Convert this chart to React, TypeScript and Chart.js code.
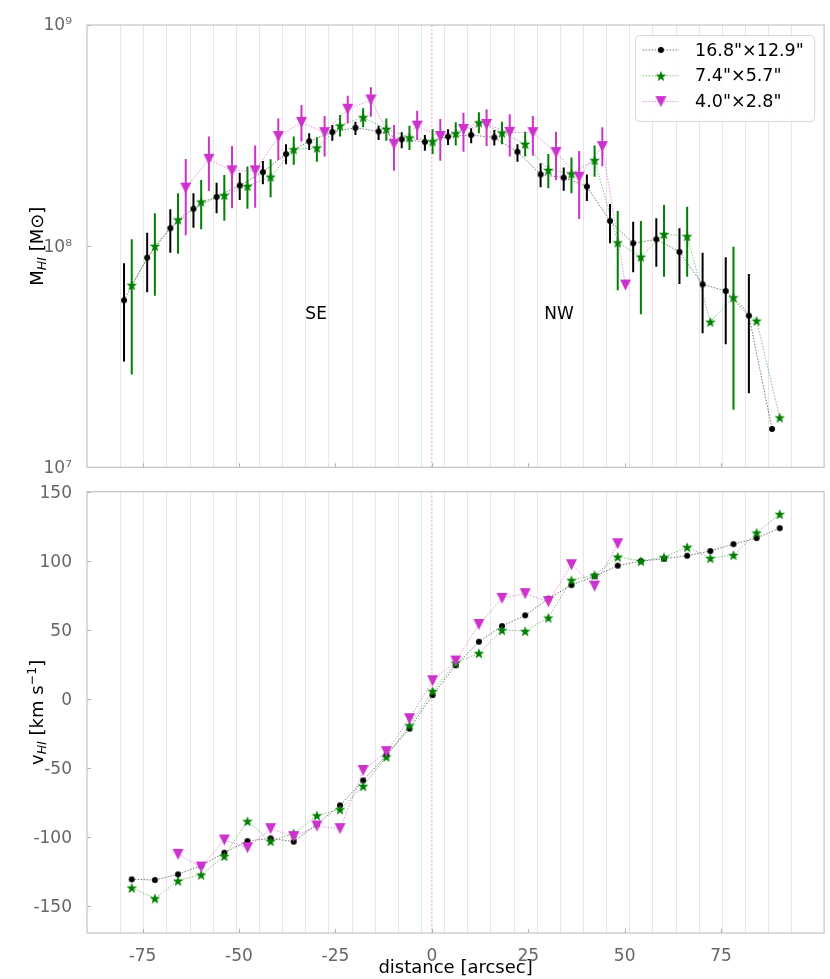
import React, { useEffect, useRef } from "react";
import { Chart, registerables } from "chart.js";

Chart.register(...registerables);

const FONT = "'DejaVu Sans', sans-serif";

// ---------------- data ----------------
const seriesLabels = ['16.8"×12.9"', '7.4"×5.7"', '4.0"×2.8"'];

// bin centres [arcsec]
const distance = [
  -77.8, -71.8, -65.8, -59.8, -53.8, -47.8, -41.8, -35.8, -29.8, -23.8, -17.8, -11.8, -5.8, 0.2,
  6.2, 12.2, 18.2, 24.2, 30.2, 36.2, 42.2, 48.2, 54.2, 60.2, 66.2, 72.2, 78.2, 84.2, 90.2,
];
const distanceFine = [
  -65.8, -59.8, -53.8, -47.8, -41.8, -35.8, -29.8, -23.8, -17.8, -11.8, -5.8, 0.2, 6.2, 12.2,
  18.2, 24.2, 30.2, 36.2, 42.2, 48.2,
];
// bin edges (vertical guide lines)
const binEdges = [
  -80.8, -74.8, -68.8, -62.8, -56.8, -50.8, -44.8, -38.8, -32.8, -26.8, -20.8, -14.8, -8.8, -2.8,
  3.2, 9.2, 15.2, 21.2, 27.2, 33.2, 39.2, 45.2, 51.2, 57.2, 63.2, 69.2, 75.2, 81.2, 87.2, 93.2,
];
const xTicks = [-75, -50, -25, 0, 25, 50, 75];
const massTicks = [1e7, 1e8, 1e9];
const massTickLabels = ["10⁷", "10⁸", "10⁹"];
const velTicks = [-150, -100, -50, 0, 50, 100, 150];

// HI mass [Msun], beam 16.8"x12.9"
const massA = [
  5.69e7, 8.87e7, 1.205e8, 1.475e8, 1.67e8, 1.88e8, 2.16e8, 2.61e8, 2.98e8, 3.28e8, 3.43e8, 3.3e8,
  3.04e8, 2.96e8, 3.13e8, 3.18e8, 3.1e8, 2.67e8, 2.11e8, 2.04e8, 1.86e8, 1.3e8, 1.03e8, 1.074e8,
  9.42e7, 6.72e7, 6.27e7, 4.85e7, 1.49e7,
];
const massAHi = [
  8.36e7, 1.151e8, 1.469e8, 1.734e8, 1.936e8, 2.148e8, 2.427e8, 2.89e8, 3.24e8, 3.53e8, 3.65e8,
  3.5e8, 3.27e8, 3.18e8, 3.38e8, 3.41e8, 3.35e8, 2.89e8, 2.37e8, 2.27e8, 2.11e8, 1.55e8, 1.29e8,
  1.336e8, 1.204e8, 9.34e7, 8.9e7, 7.48e7, null,
];
const massALo = [
  3.01e7, 6.18e7, 9.33e7, 1.211e8, 1.409e8, 1.618e8, 1.905e8, 2.345e8, 2.72e8, 3.0e8, 3.18e8,
  3.02e8, 2.77e8, 2.7e8, 2.87e8, 2.92e8, 2.85e8, 2.41e8, 1.845e8, 1.78e8, 1.6e8, 1.03e8, 7.62e7,
  8.07e7, 6.74e7, 4.04e7, 3.6e7, 2.16e7, null,
];

// HI mass, beam 7.4"x5.7"
const massB = [
  6.67e7, 1.002e8, 1.32e8, 1.59e8, 1.7e8, 1.87e8, 2.06e8, 2.74e8, 2.79e8, 3.51e8, 3.83e8, 3.39e8,
  3.1e8, 2.98e8, 3.24e8, 3.63e8, 3.26e8, 2.9e8, 2.21e8, 2.13e8, 2.45e8, 1.04e8, 8.96e7, 1.135e8,
  1.11e8, 4.55e7, 5.87e7, 4.6e7, 1.68e7,
];
const massBHi = [
  1.074e8, 1.409e8, 1.734e8, 1.991e8, 2.1e8, 2.29e8, 2.47e8, 3.13e8, 3.11e8, 3.92e8, 4.2e8,
  3.78e8, 3.5e8, 3.38e8, 3.63e8, 4.03e8, 3.65e8, 3.29e8, 2.61e8, 2.52e8, 2.85e8, 1.442e8, 1.3e8,
  1.535e8, 1.508e8, null, 9.94e7, null, null,
];
const massBLo = [
  2.63e7, 5.97e7, 9.24e7, 1.192e8, 1.304e8, 1.477e8, 1.663e8, 2.335e8, 2.41e8, 3.13e8, 3.45e8,
  3.0e8, 2.72e8, 2.61e8, 2.85e8, 3.24e8, 2.89e8, 2.54e8, 1.826e8, 1.734e8, 2.06e8, 6.32e7, 4.92e7,
  7.28e7, 7.28e7, null, 1.82e7, null, null,
];

// HI mass, beam 4.0"x2.8"
const massC = [
  1.83e8, 2.47e8, 2.19e8, 2.19e8, 3.13e8, 3.63e8, 3.26e8, 4.16e8, 4.58e8, 2.89e8, 3.49e8, 3.13e8,
  3.37e8, 3.55e8, 3.27e8, 3.26e8, 2.65e8, 2.05e8, 2.82e8, 6.67e7,
];
const massCHi = [
  2.48e8, 3.13e8, 2.84e8, 2.85e8, 3.78e8, 4.35e8, 3.88e8, 4.79e8, 5.23e8, 3.53e8, 4.1e8, 3.76e8,
  4.01e8, 4.16e8, 3.95e8, 3.88e8, 3.29e8, 2.69e8, 3.45e8, null,
];
const massCLo = [
  1.12e8, 1.776e8, 1.484e8, 1.493e8, 2.45e8, 2.97e8, 2.54e8, 3.59e8, 3.85e8, 2.19e8, 3.02e8,
  2.43e8, 2.67e8, 2.84e8, 2.54e8, 2.56e8, 1.991e8, 1.327e8, 2.3e8, null,
];

// HI velocity [km/s]
const velA = [
  -130.9, -131.4, -127.3, -121.0, -111.6, -103.2, -101.2, -103.6, -91.0, -77.3, -59.2, -41.0,
  -21.7, 2.6, 24.2, 41.3, 52.6, 60.4, 72.5, 82.3, 88.8, 96.4, 99.7, 101.4, 103.6, 107.0, 112.0,
  116.4, 123.6,
];
const velB = [
  -137.0, -144.7, -131.9, -127.5, -114.0, -88.7, -103.2, -97.6, -84.6, -80.2, -63.3, -42.0, -19.3,
  5.5, 26.0, 33.0, 49.7, 49.0, 58.7, 85.9, 89.6, 102.9, 99.7, 102.6, 109.9, 101.9, 104.1, 120.3,
  133.8,
];
const velC = [
  -112.8, -122.0, -102.4, -108.0, -94.2, -100.0, -92.3, -94.2, -52.0, -38.4, -14.5, 13.0, 27.3,
  53.8, 72.7, 76.1, 70.3, 97.1, 81.6, 112.3,
];

const regionLabels = ["SE", "NW"];
const regionX = [-30, 33];
const regionMass = 4.9e7;

// ---------------- style ----------------
const X_MIN = -89.4;
const X_MAX = 101.7;
const V_MIN = -169.8;
const V_MAX = 150;
const DODGE = 2; // horizontal offset of the series in the mass panel
const COLORS = ["#000000", "#008000", "#cc33cc"];
const LINE_COLORS = ["rgba(0,0,0,0.6)", "rgba(0,128,0,0.55)", "rgba(204,51,204,0.6)"];
const TICK_COLOR = "#666666";
const FRAME_COLOR = "#c4c4c4";

function makeStar(color: string, R: number, r: number) {
  const size = Math.ceil(R * 2) + 2;
  const c = document.createElement("canvas");
  c.width = size;
  c.height = size;
  const g = c.getContext("2d")!;
  g.fillStyle = color;
  g.beginPath();
  for (let i = 0; i < 10; i++) {
    const a = -Math.PI / 2 + (i * Math.PI) / 5;
    const rr = i % 2 === 0 ? R : r;
    const px = size / 2 + rr * Math.cos(a);
    const py = size / 2 + 0.6 + rr * Math.sin(a);
    if (i === 0) g.moveTo(px, py);
    else g.lineTo(px, py);
  }
  g.closePath();
  g.fill();
  return c;
}

function makeTriDown(color: string, w: number) {
  const size = Math.ceil(w) + 2;
  const c = document.createElement("canvas");
  c.width = size;
  c.height = size;
  const g = c.getContext("2d")!;
  g.fillStyle = color;
  g.beginPath();
  g.moveTo(1, 1);
  g.lineTo(size - 1, 1);
  g.lineTo(size / 2, size - 1);
  g.closePath();
  g.fill();
  return c;
}

function makeDot(color: string, r: number) {
  const size = Math.ceil(r * 2) + 2;
  const c = document.createElement("canvas");
  c.width = size;
  c.height = size;
  const g = c.getContext("2d")!;
  g.fillStyle = color;
  g.beginPath();
  g.arc(size / 2, size / 2, r, 0, Math.PI * 2);
  g.fill();
  return c;
}

type Part = { t: string; size: number; italic?: boolean; dy: number };

function drawVTitle(ctx: CanvasRenderingContext2D, parts: Part[], cx: number, cy: number) {
  ctx.save();
  ctx.translate(cx, cy);
  ctx.rotate(-Math.PI / 2);
  ctx.fillStyle = "#000";
  ctx.textBaseline = "alphabetic";
  ctx.textAlign = "left";
  const widths = parts.map((p) => {
    ctx.font = `${p.italic ? "italic " : ""}${p.size}px ${FONT}`;
    return ctx.measureText(p.t).width;
  });
  const total = widths.reduce((a, b) => a + b, 0);
  let x = -total / 2;
  parts.forEach((p, i) => {
    ctx.font = `${p.italic ? "italic " : ""}${p.size}px ${FONT}`;
    ctx.fillText(p.t, x, 6.5 + p.dy);
    x += widths[i];
  });
  ctx.restore();
}

function makeDecor(o: {
  yTitle: Part[];
  legend: boolean;
  yTicks: number[];
  markers: HTMLCanvasElement[];
  texts?: boolean;
}) {
  return {
    id: "decor",
    beforeDatasetsDraw(chart: any) {
      const { ctx, chartArea: a, scales } = chart;
      const xs = scales.x;
      ctx.save();
      ctx.strokeStyle = "#e6e6e6";
      ctx.lineWidth = 1;
      binEdges.forEach((e) => {
        const px = Math.round(xs.getPixelForValue(e)) + 0.5;
        ctx.beginPath();
        ctx.moveTo(px, a.top);
        ctx.lineTo(px, a.bottom);
        ctx.stroke();
      });
      const z = xs.getPixelForValue(0);
      ctx.strokeStyle = "rgba(255,80,80,0.45)";
      ctx.setLineDash([2, 2]);
      ctx.lineWidth = 1.2;
      ctx.beginPath();
      ctx.moveTo(z, a.top);
      ctx.lineTo(z, a.bottom);
      ctx.stroke();
      ctx.restore();
    },
    beforeDatasetDraw(chart: any, args: any) {
      const ds = chart.data.datasets[args.index];
      if (!ds.errHi) return;
      const { ctx, chartArea: a } = chart;
      const ys = chart.scales.y;
      const meta = chart.getDatasetMeta(args.index);
      ctx.save();
      ctx.beginPath();
      ctx.rect(a.left, a.top, a.right - a.left, a.bottom - a.top);
      ctx.clip();
      ctx.strokeStyle = ds.errColor;
      ctx.lineWidth = 2;
      meta.data.forEach((el: any, i: number) => {
        const hi = ds.errHi[i];
        const lo = ds.errLo[i];
        if (hi == null || lo == null) return;
        ctx.beginPath();
        ctx.moveTo(el.x, ys.getPixelForValue(hi));
        ctx.lineTo(el.x, ys.getPixelForValue(lo));
        ctx.stroke();
      });
      ctx.restore();
    },
    afterDraw(chart: any) {
      const { ctx, chartArea: a, scales } = chart;
      const xs = scales.x;
      const ys = scales.y;
      ctx.save();
      // ticks (inward)
      ctx.strokeStyle = "#b0b0b0";
      ctx.lineWidth = 1;
      xTicks.forEach((t) => {
        const px = Math.round(xs.getPixelForValue(t)) + 0.5;
        ctx.beginPath();
        ctx.moveTo(px, a.bottom);
        ctx.lineTo(px, a.bottom - 4);
        ctx.stroke();
      });
      o.yTicks.forEach((t) => {
        const py = Math.round(ys.getPixelForValue(t)) + 0.5;
        ctx.beginPath();
        ctx.moveTo(a.left, py);
        ctx.lineTo(a.left + 4, py);
        ctx.stroke();
      });
      // frame
      ctx.strokeStyle = FRAME_COLOR;
      ctx.lineWidth = 1.2;
      ctx.strokeRect(a.left, a.top, a.right - a.left, a.bottom - a.top);
      ctx.restore();

      drawVTitle(ctx, o.yTitle, 36, (a.top + a.bottom) / 2);

      if (o.texts) {
        ctx.save();
        ctx.fillStyle = "#000";
        ctx.font = `17px ${FONT}`;
        ctx.textAlign = "center";
        ctx.textBaseline = "middle";
        regionLabels.forEach((t, i) => {
          ctx.fillText(t, xs.getPixelForValue(regionX[i]), ys.getPixelForValue(regionMass));
        });
        ctx.restore();
      }

      if (o.legend) {
        const w = 179;
        const h = 86;
        const left = a.right - 10 - w;
        const top = a.top + 10;
        ctx.save();
        ctx.fillStyle = "rgba(255,255,255,0.85)";
        ctx.strokeStyle = "#d6d6d6";
        ctx.lineWidth = 1;
        ctx.beginPath();
        (ctx as any).roundRect(left + 0.5, top + 0.5, w, h, 4);
        ctx.fill();
        ctx.stroke();
        seriesLabels.forEach((lab, i) => {
          const cy = top + 15 + i * 25.8;
          ctx.strokeStyle = LINE_COLORS[i];
          ctx.lineWidth = 0.9;
          ctx.setLineDash([1.5, 1.5]);
          ctx.beginPath();
          ctx.moveTo(left + 7.5, cy);
          ctx.lineTo(left + 44, cy);
          ctx.stroke();
          ctx.setLineDash([]);
          const m = o.markers[i];
          ctx.drawImage(m, left + 25.8 - m.width / 2, cy - m.height / 2);
          ctx.fillStyle = "#000";
          ctx.font = `17.5px ${FONT}`;
          ctx.textAlign = "left";
          ctx.textBaseline = "middle";
          ctx.fillText(lab, left + 60, cy + 1);
        });
        ctx.restore();
      }
    },
  };
}

function dataset(
  label: string,
  xs: number[],
  ys: number[],
  dodge: number,
  idx: number,
  marker: HTMLCanvasElement,
  hi?: (number | null)[],
  lo?: (number | null)[]
) {
  return {
    label,
    data: xs.map((x, i) => ({ x: x + dodge, y: ys[i] })),
    showLine: true,
    borderColor: LINE_COLORS[idx],
    borderWidth: 0.9,
    borderDash: [1.5, 1.5],
    pointStyle: marker,
    pointRadius: 5,
    pointHoverRadius: 5,
    backgroundColor: COLORS[idx],
    order: 3 - idx,
    errHi: hi,
    errLo: lo,
    errColor: COLORS[idx],
  } as any;
}

// canvas geometry (page px)
const TOP_H = 485;
const BOT_TOP = 474;
const BOT_H = 979 - BOT_TOP;

export default function App() {
  const topRef = useRef<HTMLCanvasElement>(null);
  const botRef = useRef<HTMLCanvasElement>(null);

  useEffect(() => {
    const dot = makeDot(COLORS[0], 3);
    const star = makeStar(COLORS[1], 5.6, 2.3);
    const tri = makeTriDown(COLORS[2], 11);
    const markers = [dot, star, tri];

    const tickFont = { family: FONT, size: 17 };

    const xScale = (showLabels: boolean) => ({
      type: "linear",
      min: X_MIN,
      max: X_MAX,
      display: showLabels,
      grid: { display: false },
      border: { display: false },
      afterBuildTicks: (s: any) => {
        s.ticks = xTicks.map((v) => ({ value: v }));
      },
      afterFit: (s: any) => {
        if (showLabels) s.height = 46;
      },
      ticks: {
        color: TICK_COLOR,
        font: tickFont,
        padding: 5,
        maxRotation: 0,
        autoSkip: false,
        callback: (v: any) => String(v),
      },
      title: {
        display: showLabels,
        text: "distance [arcsec]",
        color: "#000",
        font: { family: FONT, size: 18 },
        padding: 0,
      },
    });

    const top = new Chart(topRef.current!, {
      type: "scatter",
      data: {
        datasets: [
          dataset(seriesLabels[0], distance, massA, -DODGE, 0, dot, massAHi, massALo),
          dataset(seriesLabels[1], distance, massB, 0, 1, star, massBHi, massBLo),
          dataset(seriesLabels[2], distanceFine, massC, DODGE, 2, tri, massCHi, massCLo),
        ],
      },
      options: {
        animation: false,
        responsive: false,
        maintainAspectRatio: false,
        layout: { padding: { top: 25, right: 2, bottom: 17.7, left: 0 } },
        plugins: { legend: { display: false }, tooltip: { enabled: false } },
        scales: {
          x: xScale(false) as any,
          y: {
            type: "logarithmic",
            min: 1e7,
            max: 1e9,
            grid: { display: false },
            border: { display: false },
            afterBuildTicks: (s: any) => {
              s.ticks = massTicks.map((v) => ({ value: v }));
            },
            afterFit: (s: any) => {
              s.width = 87;
            },
            ticks: {
              color: TICK_COLOR,
              font: tickFont,
              padding: 7,
              labelOffset: 1,
              autoSkip: false,
              callback: (v: any) => {
                const i = massTicks.indexOf(Number(v));
                return i >= 0 ? massTickLabels[i] : "";
              },
            },
          } as any,
        },
      },
      plugins: [
        makeDecor({
          yTitle: [
            { t: "M", size: 18, dy: 0 },
            { t: "HI", size: 12.6, italic: true, dy: 3.5 },
            { t: " [M⊙]", size: 18, dy: 0 },
          ],
          legend: true,
          yTicks: massTicks,
          markers,
          texts: true,
        }),
      ],
    } as any);

    const bot = new Chart(botRef.current!, {
      type: "scatter",
      data: {
        datasets: [
          dataset(seriesLabels[0], distance, velA, 0, 0, dot),
          dataset(seriesLabels[1], distance, velB, 0, 1, star),
          dataset(seriesLabels[2], distanceFine, velC, 0, 2, tri),
        ],
      },
      options: {
        animation: false,
        responsive: false,
        maintainAspectRatio: false,
        layout: { padding: { top: 17.7, right: 2, bottom: 0, left: 0 } },
        plugins: { legend: { display: false }, tooltip: { enabled: false } },
        scales: {
          x: xScale(true) as any,
          y: {
            type: "linear",
            min: V_MIN,
            max: V_MAX,
            grid: { display: false },
            border: { display: false },
            afterBuildTicks: (s: any) => {
              s.ticks = velTicks.map((v) => ({ value: v }));
            },
            afterFit: (s: any) => {
              s.width = 87;
            },
            ticks: {
              color: TICK_COLOR,
              font: tickFont,
              padding: 7,
              labelOffset: 2,
              autoSkip: false,
              callback: (v: any) => String(v),
            },
          } as any,
        },
      },
      plugins: [
        makeDecor({
          yTitle: [
            { t: "v", size: 18, dy: 0 },
            { t: "HI", size: 12.6, italic: true, dy: 3.5 },
            { t: " [km s", size: 18, dy: 0 },
            { t: "−1", size: 12.6, dy: -7 },
            { t: "]", size: 18, dy: 0 },
          ],
          legend: false,
          yTicks: velTicks,
          markers,
        }),
      ],
    } as any);

    return () => {
      top.destroy();
      bot.destroy();
    };
  }, []);

  return (
    <div style={{ position: "absolute", left: 0, top: 0, width: 830, height: 979, background: "#fff" }}>
      <canvas
        ref={botRef}
        width={830}
        height={BOT_H}
        style={{ position: "absolute", left: 0, top: BOT_TOP, width: 830, height: BOT_H }}
      />
      <canvas
        ref={topRef}
        width={830}
        height={TOP_H}
        style={{ position: "absolute", left: 0, top: 0, width: 830, height: TOP_H }}
      />
    </div>
  );
}
